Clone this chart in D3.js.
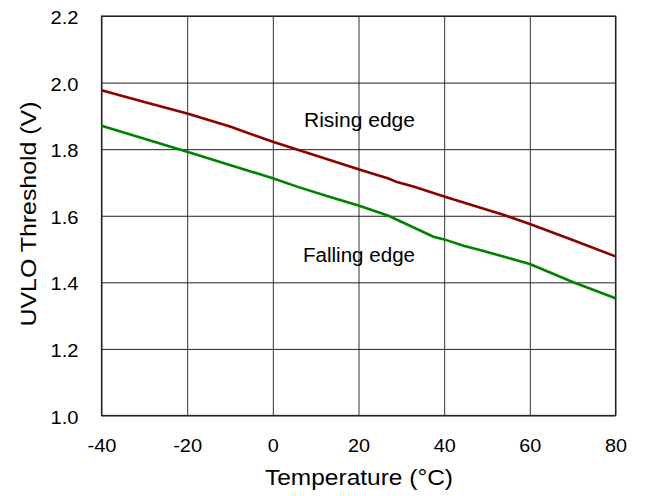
<!DOCTYPE html>
<html><head><meta charset="utf-8">
<script src="https://cdn.jsdelivr.net/npm/d3@7"></script>
<style>body{margin:0;background:#fff}svg{display:block}</style>
</head><body>
<svg id="c" width="645" height="496"></svg>
<script>
const xTicks = [-40, -20, 0, 20, 40, 60, 80];
const yTicks = [1.0, 1.2, 1.4, 1.6, 1.8, 2.0, 2.2];
const risingT = [-40, -30, -20, -10, 0, 10, 20, 27, 29, 33, 40, 50, 54, 60, 70, 80];
const risingV = [1.977, 1.942, 1.907, 1.868, 1.822, 1.781, 1.740, 1.712, 1.701, 1.687, 1.658, 1.618, 1.602, 1.575, 1.527, 1.478];
const fallingT = [-40, -20, 0, 6, 13, 20, 27, 37.5, 40, 44.5, 49, 60, 70, 80];
const fallingV = [1.870, 1.792, 1.7125, 1.686, 1.658, 1.631, 1.600, 1.537, 1.529, 1.510, 1.495, 1.455, 1.401, 1.352];
const labels = ["Rising edge", "Falling edge"];

const svg = d3.select("#c");
const font = "'Liberation Sans', Arial, sans-serif";
const L = 101.5, R = 615.5, T = 16, B = 415.5;
const x = d3.scaleLinear().domain([-40, 80]).range([L, R]);
const y = d3.scaleLinear().domain([1.0, 2.2]).range([B, T]);

// grid
const gx = svg.append("g").attr("transform", `translate(0,${B})`)
  .call(d3.axisBottom(x).tickValues(xTicks).tickSize(-(B - T)).tickFormat(d => d));
gx.select(".domain").remove();
gx.selectAll("line").attr("stroke", "#333").attr("stroke-width", 1);
gx.selectAll("text").attr("font-family", font).attr("font-size", 19).attr("fill", "#000")
  .attr("y", 0).attr("dy", 0).attr("transform", "translate(0,36)")
  .attr("textLength", d => (String(d).length === 1 ? 11 : String(d).length === 2 ? 22 : 29))
  .attr("lengthAdjust", "spacingAndGlyphs");

const gy = svg.append("g").attr("transform", `translate(${L},0)`)
  .call(d3.axisLeft(y).tickValues(yTicks).tickSize(-(R - L)).tickFormat(d3.format(".1f")));
gy.select(".domain").remove();
gy.selectAll("line").attr("stroke", "#222").attr("stroke-width", 1);
gy.selectAll("text").attr("font-family", font).attr("font-size", 19).attr("fill", "#000")
  .attr("x", -23).attr("dy", "0.4em")
  .attr("textLength", 28).attr("lengthAdjust", "spacingAndGlyphs");

// frame
svg.append("rect").attr("x", L).attr("y", T).attr("width", R - L).attr("height", B - T)
  .attr("fill", "none").attr("stroke", "#222").attr("stroke-width", 1.2);

// lines
const line = d3.line().x(d => x(d[0])).y(d => y(d[1]));
svg.append("path").datum(risingT.map((t, i) => [t, risingV[i]]))
  .attr("d", line).attr("fill", "none").attr("stroke", "#8b0000").attr("stroke-width", 2.6);
svg.append("path").datum(fallingT.map((t, i) => [t, fallingV[i]]))
  .attr("d", line).attr("fill", "none").attr("stroke", "#008200").attr("stroke-width", 2.6);

// annotations
svg.append("text").attr("x", 304).attr("y", 126.5).text(labels[0])
  .attr("font-family", font).attr("font-size", 20).attr("fill", "#000")
  .attr("textLength", 111).attr("lengthAdjust", "spacingAndGlyphs");
svg.append("text").attr("x", 303).attr("y", 261.5).text(labels[1])
  .attr("font-family", font).attr("font-size", 20).attr("fill", "#000")
  .attr("textLength", 112).attr("lengthAdjust", "spacingAndGlyphs");

// axis titles
svg.append("text").attr("x", 359).attr("y", 485).attr("text-anchor", "middle")
  .text("Temperature (°C)").attr("font-family", font).attr("font-size", 22).attr("fill", "#000")
  .attr("textLength", 188).attr("lengthAdjust", "spacingAndGlyphs");
svg.append("text").attr("transform", "translate(36,214) rotate(-90)").attr("text-anchor", "middle")
  .text("UVLO Threshold (V)").attr("font-family", font).attr("font-size", 22).attr("fill", "#000")
  .attr("textLength", 225).attr("lengthAdjust", "spacingAndGlyphs");
</script>
</body></html>
